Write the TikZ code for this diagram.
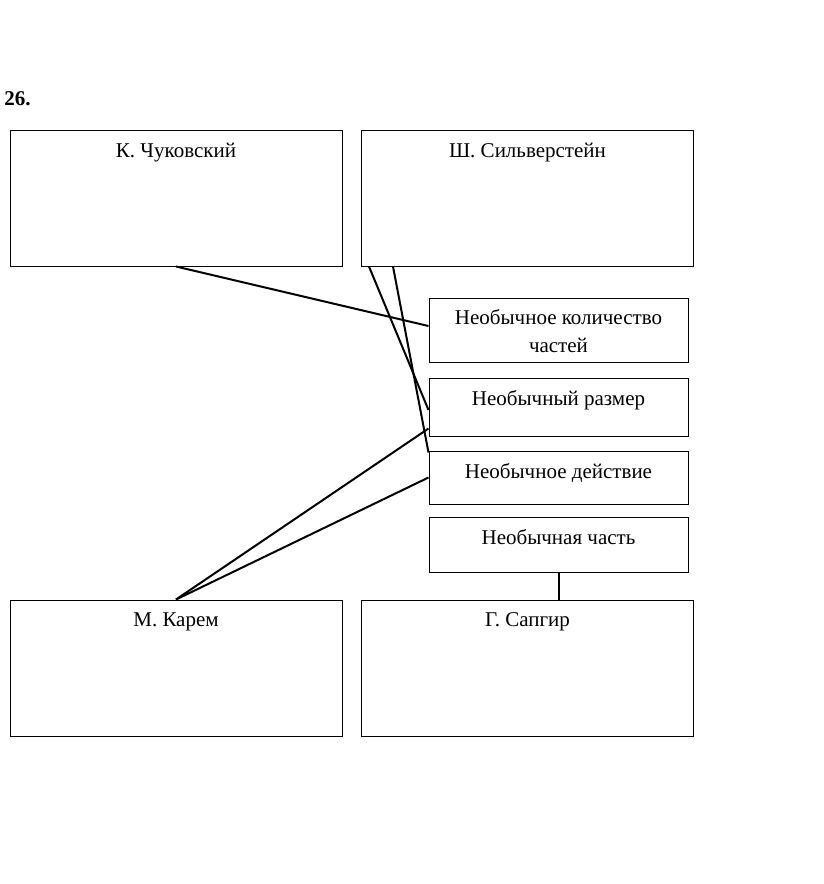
\documentclass[tikz,border=0pt]{standalone}
\usepackage{fontspec}
\setmainfont{Liberation Serif}
\usepackage{tikz}
\usetikzlibrary{positioning}
\usetikzlibrary{calc}

\begin{document}
\begin{tikzpicture}[x=1pt,y=-1pt,semithick,
		font=\fontsize{21}{25}\selectfont]
		\tikzstyle{author}=[draw=black,line width=1pt,minimum width=332pt,minimum height=136pt,inner sep=0pt]
		\tikzstyle{feature}=[draw=black,line width=1pt,minimum width=259pt,inner sep=0pt]
		\tikzstyle{title}=[anchor=north,inner sep=0pt,yshift=-13pt,align=center]
		\tikzstyle{link}=[line width=2pt,black]
		
		\useasboundingbox (0,0) rectangle (823,884);
		\node[anchor=base west,font=\bfseries\fontsize{21}{24}\selectfont,inner sep=0pt] (num) at (4,105) {26.};
		
		\node[author,label={[title]north:К. Чуковский}]      (chuk)   at (176,198)   {};
		\node[author,label={[title]north:Ш. Сильверстейн}]   (silv)   at (527.5,198) {};
		\node[author,label={[title]north:М. Карем}]          (karem)  at (176,668)   {};
		\node[author,label={[title]north:Г. Сапгир}]         (sapgir) at (527.5,668) {};
		
		\node[feature,minimum height=64pt,label={[title,yshift=1pt]north:Необычное количество\\[3pt]частей}] (kol) at (558.5,330) {};
		\node[feature,minimum height=58pt,label={[title]north:Необычный размер}]   (razm)  at (558.5,407)   {};
		\node[feature,minimum height=53pt,label={[title]north:Необычное действие}] (deist) at (558.5,477.5) {};
		\node[feature,minimum height=55pt,label={[title]north:Необычная часть}]    (chast) at (558.5,544.5) {};
		
		\draw[link] (chuk.south) -- ($(kol.west)+(0,-4)$);
		\draw[link] ($(silv.south west)+(8,0)$) -- ($(razm.west)+(0,3)$);
		\draw[link] ($(silv.south west)+(32,0)$) -- ($(deist.north west)+(0,2)$);
		\draw[link] (karem.north) -- ($(razm.south west)+(0,-8)$);
		\draw[link] (karem.north) -- (deist.west);
		\draw[link] (chast.south) -- (chast.south |- sapgir.north);
\end{tikzpicture}
\end{document}
